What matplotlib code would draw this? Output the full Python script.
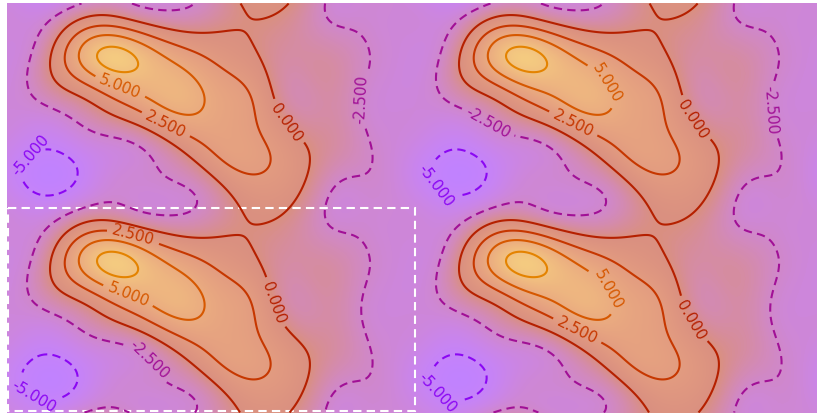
import matplotlib
matplotlib.use("Agg")
import matplotlib.pyplot as plt
from matplotlib.patches import Rectangle
import numpy as np

# one tile of the periodic field in pixels; the picture repeats it 2x2
tile_w, tile_h = 409, 205
levels = [-5.0, -2.5, 0.0, 2.5, 5.0, 7.5]

# contour lines (u right, v down)
line_m5 = [(15, 172), (23, 152), (38, 145), (56, 152), (73, 167), (68, 187), (48, 197), (28, 192)]
line_m25 = [(58, 0), (46, 20), (30, 40), (21, 57), (23, 72), (46, 104), (73, 122), (103, 135),
            (138, 152), (160, 172), (183, 197), (186, 204),
            (128, 0), (140, 7), (158, 10), (178, 7), (190, 0),
            (80, 204), (88, 197), (100, 194), (113, 197), (120, 204),
            (318, 0), (326, 17), (348, 32), (363, 42), (363, 64), (356, 82), (358, 127),
            (366, 157), (346, 174), (323, 187), (318, 204)]
line_0 = [(43, 62), (48, 39), (63, 22), (76, 17), (150, 22), (233, 25), (246, 42), (266, 99),
          (283, 124), (300, 149), (301, 175), (290, 204),
          (60, 87), (100, 107), (140, 125), (183, 145), (213, 172), (230, 204),
          (243, 9), (258, 14), (273, 9)]
line_25 = [(58, 52), (63, 37), (76, 27), (133, 30), (193, 52), (220, 69), (250, 102), (263, 142),
           (260, 165), (246, 175), (213, 165), (186, 142), (153, 119), (113, 100), (78, 82), (61, 67)]
line_5 = [(73, 49), (78, 37), (90, 32), (133, 39), (173, 62), (193, 82), (196, 102), (186, 112),
          (150, 102), (113, 85), (86, 70)]
line_75 = [(91, 54), (98, 46), (111, 44), (125, 51), (130, 59), (121, 67), (105, 66), (94, 61)]

# a few spot values between the lines
spot_uv = [(110, 56), (150, 76), (215, 110), (230, 125), (245, 150), (210, 42), (265, 60),
           (313, 90), (330, 140), (290, 60), (300, 20), (386, 20), (386, 60), (386, 100),
           (386, 140), (386, 180), (3, 20), (3, 60), (3, 100), (3, 130),
           (46, 172), (60, 125), (20, 110), (130, 180), (160, 195), (100, 201), (95, 8),
           (115, 4), (158, 3), (210, 5), (258, 5), (300, 5), (350, 5), (250, 195), (270, 190),
           (35, 80), (25, 15), (113, 172), (88, 142), (95, 180), (140, 190),
           (125, 128), (165, 155), (200, 182)]
spot_val = [8.9, 6.3, 4.0, 3.3, 3.0, 1.0, -0.6,
            -1.2, -1.1, -1.2, -1.5, -3.1, -3.1, -3.1,
            -3.1, -3.1, -3.2, -3.2, -3.2, -3.4,
            -5.6, -3.3, -3.1, -3.0, -2.9, -2.3, -1.5,
            -1.9, -2.8, -1.3, 0.4, -1.6, -2.9, 1.0, 0.9,
            -1.2, -2.9, -3.3, -3.3, -3.5, -3.0,
            -1.3, -1.3, -1.4]


def basis(u, v, cu, cv, s):
    # periodic gaussian bumps on a coarse lattice
    out = np.zeros(np.broadcast(u[..., None], cu).shape)
    for du in (-tile_w, 0, tile_w):
        for dv in (-tile_h, 0, tile_h):
            out += np.exp(-0.5 * (((u[..., None] - cu - du) ** 2 + (v[..., None] - cv - dv) ** 2) / s ** 2))
    return out


pts, vals = [], []
for line, lv in zip([line_m5, line_m25, line_0, line_25, line_5, line_75], levels):
    pts += line
    vals += [lv] * len(line)
pts += spot_uv
vals += spot_val
pts = np.array(pts, float)
vals = np.array(vals)

gu, gv = np.meshgrid(np.arange(0, tile_w, tile_w / 15), np.arange(0, tile_h, tile_h / 8))
cu, cv = gu.ravel(), gv.ravel()
sig = 24.0
offset = -2.0
A = basis(pts[:, 0], pts[:, 1], cu, cv, sig)
w = np.linalg.solve(A.T @ A + 0.03 * np.eye(len(cu)), A.T @ (vals - offset))

uu, vv = np.meshgrid(np.arange(tile_w) + 0.5, np.arange(tile_h) + 0.5)
tile = offset + basis(uu, vv, cu, cv, sig) @ w

z = np.tile(tile, (2, 2))
ny, nx = z.shape
x = np.arange(nx) + 0.5
y = np.arange(ny) + 0.5

label_at = [(113, 84), (160, 119), (280, 119), (358, 97), (21, 149),
            (598, 82), (568, 117), (688, 115), (763, 107), (483, 117), (436, 177),
            (126, 234), (123, 287), (276, 297), (143, 355), (28, 392),
            (600, 287), (573, 322), (688, 315), (438, 382)]

plt.rcParams["lines.dashed_pattern"] = [4, 2.5]

fig = plt.figure(figsize=(8.17, 4.16), dpi=100)
ax = fig.add_axes([7 / 817, 3 / 416, 810 / 817, 410 / 416])
ax.imshow(z, cmap="gnuplot", vmin=-12.5, vmax=12.5, alpha=0.5,
          extent=(0, nx, ny, 0), interpolation="bilinear")
styles = ["dashed" if lv < 0 else "solid" for lv in levels]
cs = ax.contour(x, y, z, levels=levels, cmap="gnuplot", vmin=-12.5, vmax=12.5,
                linewidths=1.5, linestyles=styles)
ax.clabel(cs, fmt="%1.3f", fontsize=11, inline=True, manual=label_at)

ax.add_patch(Rectangle((1, tile_h), tile_w - 2, tile_h - 2, fill=False,
                       ec="white", ls="--", lw=1.5, clip_on=False))
ax.set_xlim(0, 810)
ax.set_ylim(410, 0)
ax.axis("off")

fig.savefig("out.png", dpi=100)
